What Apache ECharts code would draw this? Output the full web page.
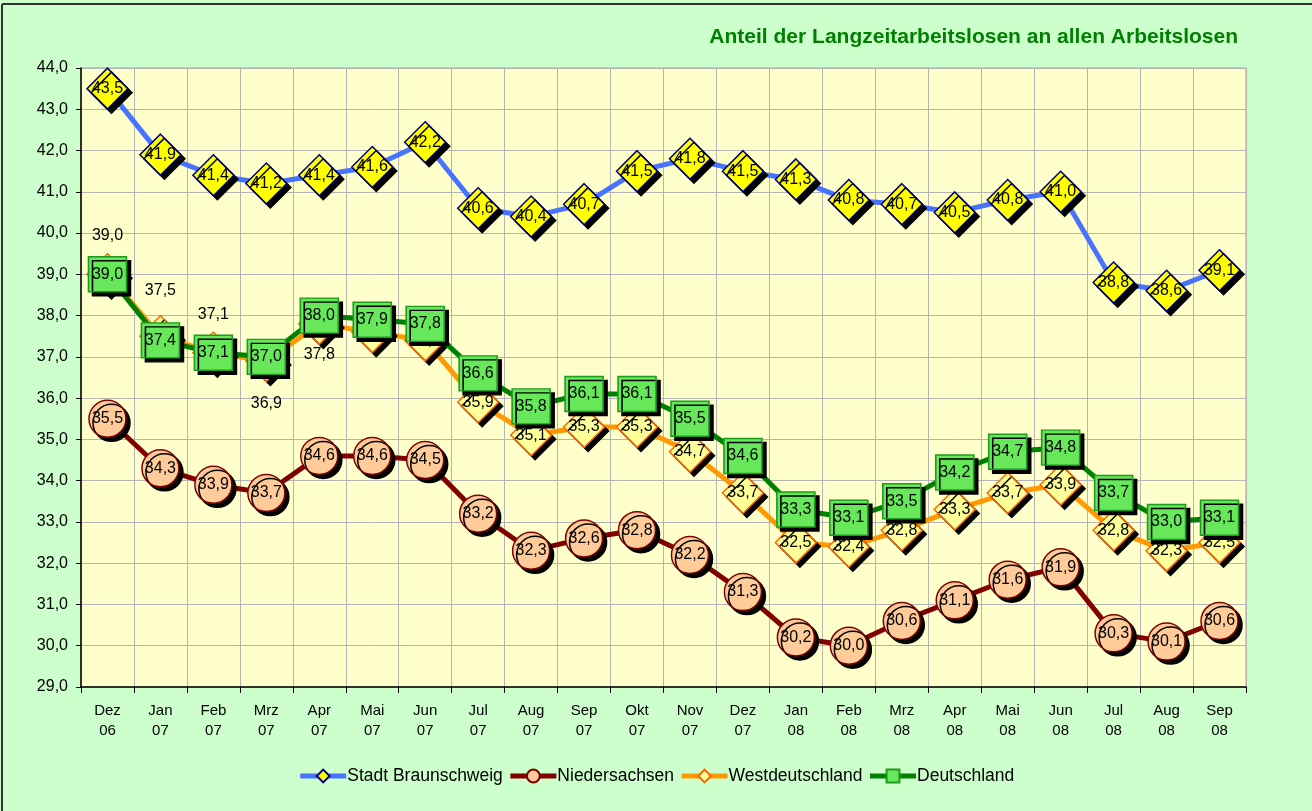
<!DOCTYPE html>
<html>
<head>
<meta charset="utf-8">
<script src="https://cdn.jsdelivr.net/npm/echarts@6/dist/echarts.min.js"></script>
<style>
  html, body { margin: 0; padding: 0; background: #CCFFCC; }
  #chart { width: 1312px; height: 811px; }
</style>
</head>
<body>
<div id="chart"></div>
<script>
// Monate (zweizeilig)
const months = ['Dez\n06', 'Jan\n07', 'Feb\n07', 'Mrz\n07', 'Apr\n07', 'Mai\n07', 'Jun\n07', 'Jul\n07', 'Aug\n07', 'Sep\n07', 'Okt\n07',
  'Nov\n07', 'Dez\n07', 'Jan\n08', 'Feb\n08', 'Mrz\n08', 'Apr\n08', 'Mai\n08', 'Jun\n08', 'Jul\n08', 'Aug\n08', 'Sep\n08'];

const braunschweig = [43.5, 41.9, 41.4, 41.2, 41.4, 41.6, 42.2, 40.6, 40.4, 40.7, 41.5, 41.8, 41.5, 41.3, 40.8, 40.7, 40.5, 40.8, 41.0, 38.8, 38.6, 39.1];
const niedersachsen = [35.5, 34.3, 33.9, 33.7, 34.6, 34.6, 34.5, 33.2, 32.3, 32.6, 32.8, 32.2, 31.3, 30.2, 30.0, 30.6, 31.1, 31.6, 31.9, 30.3, 30.1, 30.6];
const westdeutschland = [39.0, 37.5, 37.1, 36.9, 37.8, 37.6, 37.4, 35.9, 35.1, 35.3, 35.3, 34.7, 33.7, 32.5, 32.4, 32.8, 33.3, 33.7, 33.9, 32.8, 32.3, 32.5];
const deutschland = [39.0, 37.4, 37.1, 37.0, 38.0, 37.9, 37.8, 36.6, 35.8, 36.1, 36.1, 35.5, 34.6, 33.3, 33.1, 33.5, 34.2, 34.7, 34.8, 33.7, 33.0, 33.1];

const yTicks = [29, 30, 31, 32, 33, 34, 35, 36, 37, 38, 39, 40, 41, 42, 43, 44];

const fmt = v => Number(v).toFixed(1).replace('.', ',');
const font = 'Liberation Sans, Arial, sans-serif';

// Beschriftungen von Westdeutschland, die ausserhalb stehen
const westOutside = {
  0: { position: 'top', distance: 9 },
  1: { position: 'top', distance: 16 },
  2: { position: 'top', distance: 9 },
  3: { position: 'bottom', distance: 13 },
  4: { position: 'bottom', distance: 1 }
};

const shadow = { shadowColor: '#000', shadowBlur: 0, shadowOffsetX: 4, shadowOffsetY: 4 };

function lineSeries(name, data, z, lineColor, symbol, size, fill, border) {
  return {
    name: name,
    type: 'line',
    z: z,
    data: data,
    symbol: symbol,
    symbolSize: size,
    showAllSymbol: true,
    lineStyle: { color: lineColor, width: 5 },
    itemStyle: Object.assign({ color: fill, borderColor: border, borderWidth: 1.5 }, shadow),
    label: {
      show: true,
      position: 'inside',
      color: '#000',
      fontFamily: font,
      fontSize: 16,
      formatter: p => fmt(p.value)
    },
    emphasis: { disabled: true },
    animation: false
  };
}

const chart = echarts.init(document.getElementById('chart'));

const westData = westdeutschland.map((v, i) => westOutside[i]
  ? { value: v, label: westOutside[i] }
  : v);

const option = {
  backgroundColor: '#CCFFCC',
  textStyle: { fontFamily: font },
  title: {
    text: 'Anteil der Langzeitarbeitslosen an allen Arbeitslosen',
    right: 69,
    top: 22,
    textStyle: { color: '#008000', fontSize: 21, fontWeight: 'bold', fontFamily: font }
  },
  graphic: [
    { type: 'line', shape: { x1: 2, y1: 4, x2: 1312, y2: 4 }, style: { stroke: '#333', lineWidth: 2 } },
    { type: 'line', shape: { x1: 2, y1: 4, x2: 2, y2: 811 }, style: { stroke: '#333', lineWidth: 2 } }
  ],
  legend: {
    bottom: 21,
    left: 'center',
    itemWidth: 46,
    itemHeight: 16,
    itemGap: 5,
    lineStyle: { width: 5 },
    textStyle: { color: '#000', fontSize: 17.5, fontFamily: font, padding: [0, 0, 0, -4] },
    data: ['Stadt Braunschweig', 'Niedersachsen', 'Westdeutschland', 'Deutschland']
  },
  grid: {
    left: 81,
    right: 66,
    top: 68,
    bottom: 124,
    show: true,
    backgroundColor: '#FFFFCC',
    borderColor: '#A0A0A0',
    borderWidth: 1
  },
  xAxis: {
    type: 'category',
    data: months,
    boundaryGap: true,
    axisLine: { lineStyle: { color: '#000', width: 1.5 } },
    axisTick: { show: true, length: 6, lineStyle: { color: '#000' } },
    axisLabel: { color: '#000', fontSize: 15, lineHeight: 20, margin: 14, interval: 0, fontFamily: font },
    splitLine: { show: true, interval: 0, lineStyle: { color: '#B4B4B4', width: 1 } }
  },
  yAxis: {
    type: 'value',
    min: yTicks[0],
    max: yTicks[yTicks.length - 1],
    interval: 1,
    axisLine: { show: true, lineStyle: { color: '#000', width: 1.5 } },
    axisTick: { show: true, length: 5, lineStyle: { color: '#000' } },
    axisLabel: { color: '#000', fontSize: 16, margin: 13, formatter: v => fmt(v), fontFamily: font },
    splitLine: { show: true, lineStyle: { color: '#B4B4B4', width: 1 } }
  },
  series: [
    lineSeries('Stadt Braunschweig', braunschweig, 3, '#4773FF', 'diamond', 41, '#FFFF00', '#000080'),
    lineSeries('Niedersachsen', niedersachsen, 4, '#800000', 'circle', 37, '#FFCC99', '#800000'),
    lineSeries('Westdeutschland', westData, 5, '#FF9900', 'diamond', 41, '#FFFF99', '#FF6600'),
    lineSeries('Deutschland', deutschland, 6, '#008000', 'rect', [38, 35], '#66E85A', '#1E9A1E')
  ]
};

chart.setOption(option);
window.addEventListener('resize', () => chart.resize());
</script>
</body>
</html>
